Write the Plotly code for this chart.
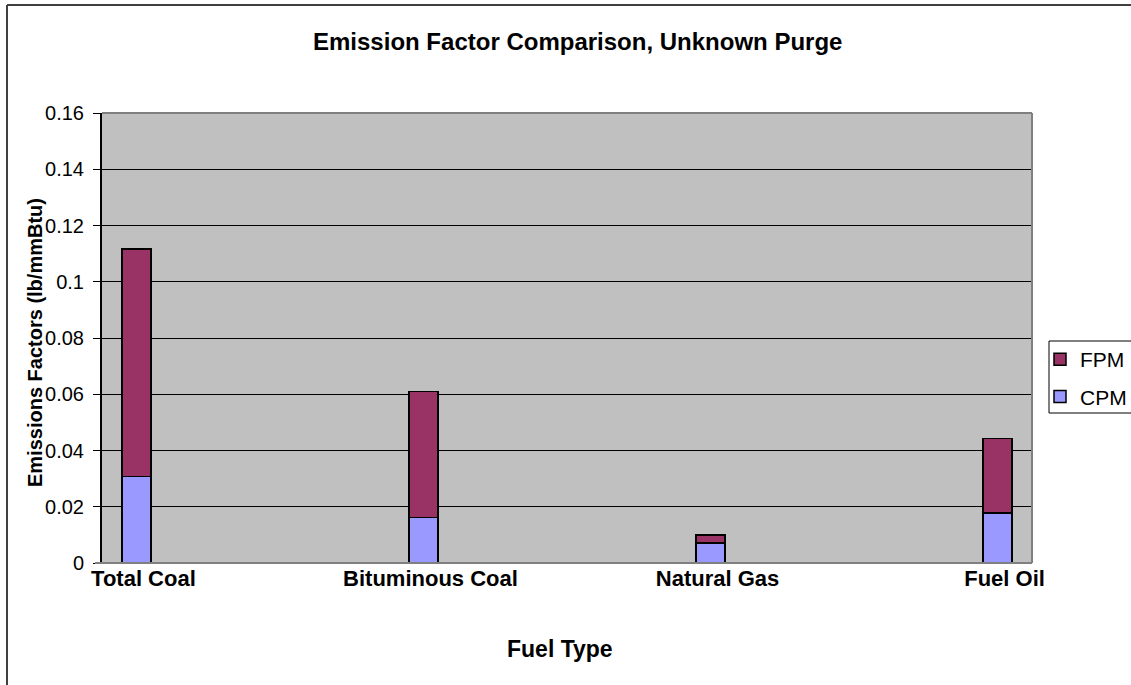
import plotly.graph_objects as go

categories = ["Total Coal", "Bituminous Coal", "Natural Gas", "Fuel Oil"]
cpm = [0.0307, 0.0161, 0.0072, 0.0177]
fpm = [0.0809, 0.0448, 0.0028, 0.0266]
y_ticks = [0, 0.02, 0.04, 0.06, 0.08, 0.1, 0.12, 0.14, 0.16]
y_tick_text = ["0", "0.02", "0.04", "0.06", "0.08", "0.1", "0.12", "0.14", "0.16"]

W, H = 1131, 685
L, R, T, B = 102, 1032, 113, 563
pw, ph = R - L, B - T

def px(x):
    return (x - L) / pw

def py(y):
    return (B - y) / ph

FONT = "Liberation Sans, Arial, sans-serif"

fig = go.Figure()
fig.add_trace(go.Bar(x=categories, y=cpm, name="CPM", width=0.101, legendgroup="c", legendrank=2,
                     marker=dict(color="#9999FF", line=dict(color="black", width=1.5))))
fig.add_trace(go.Bar(x=categories, y=fpm, name="FPM", width=0.101, legendgroup="f", legendrank=1,
                     marker=dict(color="#993366", line=dict(color="black", width=1.5))))

gray = "#808080"
shapes = [
    # plot border (gray top, right, bottom)
    dict(type="line", xref="paper", yref="paper", x0=0, x1=1, y0=1, y1=1, line=dict(color=gray, width=2), layer="above"),
    dict(type="line", xref="paper", yref="paper", x0=1, x1=1, y0=0, y1=1, line=dict(color=gray, width=2), layer="above"),
    dict(type="line", xref="paper", yref="paper", x0=px(95), x1=1, y0=0, y1=0, line=dict(color=gray, width=2), layer="above"),
    # chart-area border (left and top visible)
    dict(type="line", xref="paper", yref="paper", x0=px(7), x1=px(7), y0=py(5), y1=py(700), line=dict(color="#404040", width=2)),
    dict(type="line", xref="paper", yref="paper", x0=px(7), x1=px(1140), y0=py(5), y1=py(5), line=dict(color="#404040", width=2)),
    # legend box
    dict(type="rect", xref="paper", yref="paper", x0=px(1049), x1=px(1140), y0=py(341), y1=py(413),
         line=dict(color="black", width=1), fillcolor="white", layer="below"),
]

annotations = [
    dict(text="<b>Emission Factor Comparison, Unknown Purge</b>", xref="paper", yref="paper",
         x=px(577), y=py(42), xanchor="center", yanchor="middle", showarrow=False,
         font=dict(family=FONT, size=24, color="black")),
    dict(text="<b>Fuel Type</b>", xref="paper", yref="paper",
         x=px(560), y=py(649), xanchor="center", yanchor="middle", showarrow=False,
         font=dict(family=FONT, size=23, color="black")),
    dict(text="<b>Emissions Factors (lb/mmBtu)</b>", xref="paper", yref="paper",
         x=px(35), y=py(343), xanchor="center", yanchor="middle", showarrow=False, textangle=-90,
         font=dict(family=FONT, size=20, color="black")),
]

fig.update_layout(
    width=W, height=H,
    margin=dict(l=L, r=W - R, t=T, b=H - B, autoexpand=False),
    barmode="stack",
    paper_bgcolor="white",
    plot_bgcolor="#C0C0C0",
    shapes=shapes,
    annotations=annotations,
    showlegend=True,
    legend=dict(x=px(1040), y=py(339), xanchor="left", yanchor="top",
                borderwidth=0, bgcolor="rgba(0,0,0,0)",
                traceorder="grouped", tracegroupgap=7,
                font=dict(family=FONT, size=21, color="black")),
    xaxis=dict(type="category", range=[-0.12, 3.12], showgrid=False, ticks="",
               tickfont=dict(family=FONT, size=22, color="black", weight="bold"),
               showline=False, zeroline=False, ticklabelshift=7),
    yaxis=dict(range=[0, 0.16], tickvals=y_ticks, ticktext=y_tick_text,
               showgrid=True, gridcolor="black", gridwidth=1,
               ticks="outside", ticklen=7, tickcolor="black", tickwidth=1,
               ticklabelstandoff=5,
               tickfont=dict(family=FONT, size=20, color="black"),
               showline=True, linecolor="black", linewidth=2, zeroline=False),
    font=dict(family=FONT),
)

fig.write_html("out.html", config={"displayModeBar": False},
               post_script="document.body.style.margin='0';document.body.style.padding='0';")
